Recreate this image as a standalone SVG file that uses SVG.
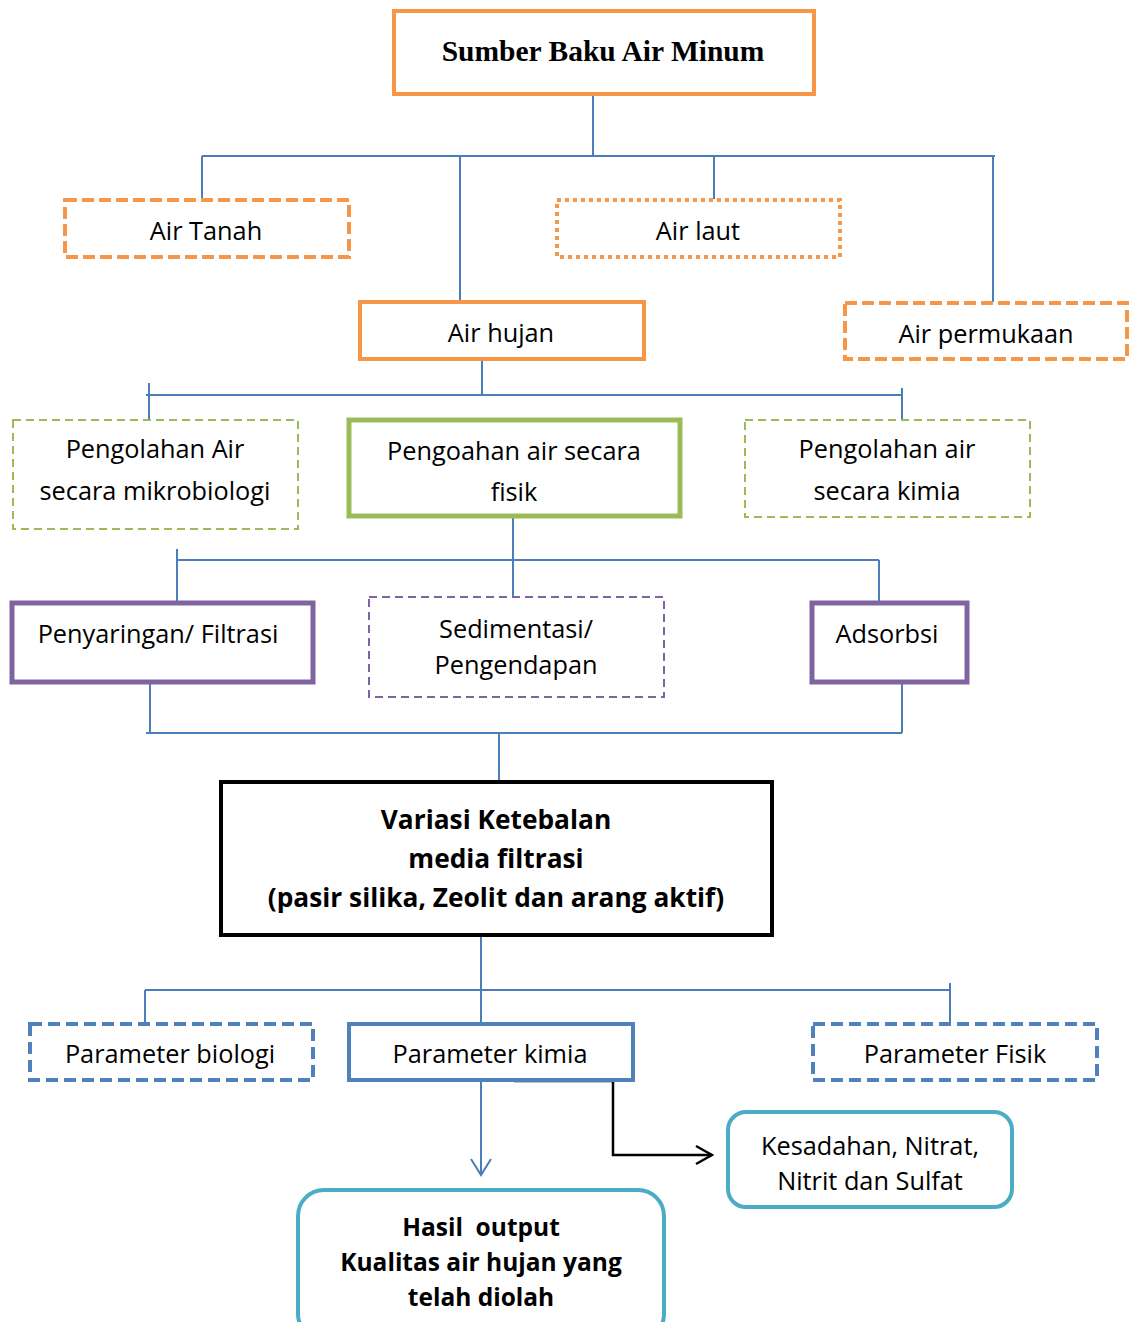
<svg xmlns="http://www.w3.org/2000/svg" width="1130" height="1322" viewBox="0 0 1130 1322">
<defs>
<style>
.t{font-family:"Open Sans","Liberation Sans",sans-serif;font-size:25.3px;fill:#000;text-anchor:middle}
.b{font-family:"Open Sans","Liberation Sans",sans-serif;font-size:26.3px;font-weight:bold;fill:#000;text-anchor:middle}
.hb{font-family:"Open Sans","Liberation Sans",sans-serif;font-size:24.5px;font-weight:bold;fill:#000;text-anchor:middle}
.ser{font-family:"Liberation Serif",serif;font-size:29.5px;font-weight:bold;fill:#000;text-anchor:middle}
.or{fill:#fff;stroke:#F79646;stroke-width:4}
.gr{fill:#fff;stroke:#9BBB59}
.pu{fill:#fff;stroke:#8064A2}
.bl{fill:#fff;stroke:#4F81BD;stroke-width:4}
.cy{fill:#fff;stroke:#4BACC6;stroke-width:4}
.c{fill:none;stroke:#4A7EBB;stroke-width:2}
</style>
<marker id="ab" viewBox="0 0 20 24" refX="18" refY="12" markerWidth="20" markerHeight="24" markerUnits="userSpaceOnUse" orient="auto">
<path d="M2,2 L18,12 L2,22" fill="none" stroke="#4A7EBB" stroke-width="2"/>
</marker>
<marker id="ak" viewBox="0 0 20 24" refX="18" refY="12" markerWidth="20" markerHeight="24" markerUnits="userSpaceOnUse" orient="auto">
<path d="M2,3 L18,12 L2,21" fill="none" stroke="#000" stroke-width="2.5"/>
</marker>
<clipPath id="clipK"><rect x="727" y="1111" width="286" height="81"/></clipPath>
<clipPath id="clipH"><rect x="297" y="1189" width="368" height="118"/></clipPath>
</defs>
<rect width="1130" height="1322" fill="#fff"/>

<g id="connectors">
<path class="c" d="M593,95 V156 M202,156 H995 M202,156 V199 M460,156 V301 M714,156 V199 M993,156 V302"/>
<path class="c" d="M482,359 V395 M146,395 H902 M149,383 V420 M902,388 V419"/>
<path class="c" d="M513,517 V597 M177,560 H879 M177,549 V602 M879,560 V602"/>
<path class="c" d="M150,683 V733 M902,683 V733 M146,733 H902 M499,733 V781"/>
<path class="c" d="M481,936 V1023 M145,990 H950 M145,990 V1023 M950,983 V1023"/>
<path class="c" d="M481,1081 V1175" marker-end="url(#ab)"/>
<path d="M514,1081 H613 V1155 H712" fill="none" stroke="#000" stroke-width="2.5" marker-end="url(#ak)"/>
</g>

<g id="sumber">
<rect class="or" x="394" y="11" width="420" height="83"/>
<text class="ser" x="603" y="61">Sumber Baku Air Minum</text>
</g>
<g id="air-tanah">
<rect class="or" x="65" y="200" width="284" height="57" stroke-dasharray="12 5"/>
<text class="t" x="206" y="240">Air Tanah</text>
</g>
<g id="air-laut">
<rect class="or" x="557" y="200" width="283" height="57" stroke-dasharray="4 4"/>
<text class="t" x="698" y="240">Air laut</text>
</g>
<g id="air-hujan">
<rect class="or" x="360" y="302" width="284" height="57"/>
<text class="t" x="501" y="342">Air hujan</text>
</g>
<g id="air-permukaan">
<rect class="or" x="845" y="303" width="282" height="56" stroke-dasharray="12 5"/>
<text class="t" x="986" y="343">Air permukaan</text>
</g>

<g id="mikrobiologi">
<rect class="gr" x="13" y="420" width="285" height="109" stroke-width="2" stroke-dasharray="8 5"/>
<text class="t" x="155" y="458">Pengolahan Air</text>
<text class="t" x="155" y="500">secara mikrobiologi</text>
</g>
<g id="fisik">
<rect class="gr" x="349" y="420" width="331" height="96" stroke-width="5"/>
<text class="t" x="514" y="460">Pengoahan air secara</text>
<text class="t" x="514" y="501">fisik</text>
</g>
<g id="kimia">
<rect class="gr" x="745" y="420" width="285" height="97" stroke-width="2" stroke-dasharray="8 5"/>
<text class="t" x="887" y="458">Pengolahan air</text>
<text class="t" x="887" y="500">secara kimia</text>
</g>

<g id="filtrasi">
<rect class="pu" x="12" y="603" width="301" height="79" stroke-width="5"/>
<text class="t" x="158" y="643">Penyaringan/ Filtrasi</text>
</g>
<g id="sedimentasi">
<rect class="pu" x="369" y="597" width="295" height="100" stroke-width="2" stroke-dasharray="8 5"/>
<text class="t" x="516" y="638">Sedimentasi/</text>
<text class="t" x="516" y="674">Pengendapan</text>
</g>
<g id="adsorbsi">
<rect class="pu" x="812" y="603" width="155" height="79" stroke-width="5"/>
<text class="t" x="887" y="643">Adsorbsi</text>
</g>

<g id="variasi">
<rect x="221" y="782" width="551" height="153" fill="#fff" stroke="#000" stroke-width="4"/>
<text class="b" x="496" y="829">Variasi Ketebalan</text>
<text class="b" x="496" y="868">media filtrasi</text>
<text class="b" x="496" y="907">(pasir silika, Zeolit dan arang aktif)</text>
</g>

<g id="param-biologi">
<rect class="bl" x="30" y="1024" width="283" height="56" stroke-dasharray="12 6"/>
<text class="t" x="170" y="1063">Parameter biologi</text>
</g>
<g id="param-kimia">
<rect class="bl" x="349" y="1024" width="284" height="56"/>
<text class="t" x="490" y="1063">Parameter kimia</text>
</g>
<g id="param-fisik">
<rect class="bl" x="813" y="1024" width="284" height="56" stroke-dasharray="12 6"/>
<text class="t" x="955" y="1063">Parameter Fisik</text>
</g>

<g id="kesadahan">
<rect class="cy" x="728" y="1112" width="284" height="95" rx="18"/>
<g clip-path="url(#clipK)">
<text class="t" x="870" y="1155">Kesadahan, Nitrat,</text>
<text class="t" x="870" y="1190">Nitrit dan Sulfat</text>
</g>
</g>
<g id="hasil">
<rect class="cy" x="298" y="1190" width="366" height="150" rx="26"/>
<g clip-path="url(#clipH)">
<text class="hb" x="481" y="1236" style="white-space:pre">Hasil  output</text>
<text class="hb" x="481" y="1271">Kualitas air hujan yang</text>
<text class="hb" x="481" y="1306">telah diolah</text>
</g>
</g>
</svg>
